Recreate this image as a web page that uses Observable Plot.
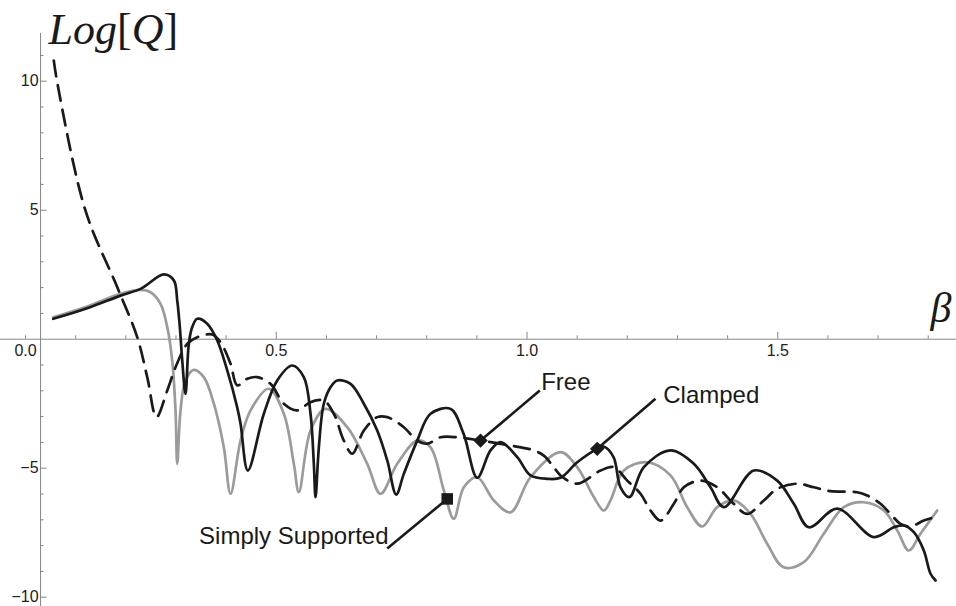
<!DOCTYPE html>
<html>
<head>
<meta charset="utf-8">
<script src="https://cdn.jsdelivr.net/npm/d3@7"></script>
<script src="https://cdn.jsdelivr.net/npm/@observablehq/plot@0.6"></script>
<style>
  html, body { margin: 0; padding: 0; background: #ffffff; }
  #chart svg { display: block; }
</style>
</head>
<body>
<div id="chart"></div>
<script>
// ---- Series: Clamped (solid black) ----
const clampedBeta = [0.0552,0.1230,0.1894,0.2293,0.2758,0.2957,0.3025,0.3077,0.3125,0.3190,0.3256,0.3324,0.3424,0.3623,0.3823,0.4022,0.4221,0.4287,0.4433,0.4752,0.5019,0.5318,0.5549,0.5683,0.5749,0.5783,0.5849,0.5948,0.6082,0.6215,0.6481,0.6746,0.7013,0.7213,0.7392,0.7543,0.7811,0.8076,0.8475,0.8734,0.9007,0.9272,0.9472,0.9805,1.0070,1.0403,1.0668,1.1001,1.1400,1.1525,1.1725,1.1864,1.2042,1.2329,1.2861,1.3326,1.3659,1.3924,1.4522,1.4989,1.5320,1.5619,1.6186,1.6915,1.7314,1.7514,1.7713,1.7912,1.8046,1.8146];
const clampedLogQ = [0.79,1.20,1.69,1.95,2.51,2.28,1.50,0.47,-0.83,-2.12,-0.18,0.47,0.79,0.60,-0.05,-1.21,-2.64,-3.27,-5.09,-2.89,-1.60,-1.02,-1.47,-2.89,-4.83,-6.12,-4.19,-2.50,-1.86,-1.60,-1.73,-2.50,-3.54,-4.70,-6.02,-5.22,-3.93,-2.89,-2.70,-3.66,-5.37,-4.31,-3.99,-4.57,-5.28,-5.41,-5.37,-4.77,-4.25,-4.16,-4.57,-5.74,-6.12,-4.96,-4.31,-4.83,-5.74,-6.51,-5.09,-5.48,-6.38,-7.29,-6.57,-7.67,-7.29,-7.22,-7.48,-8.19,-9.09,-9.35];

// ---- Series: Simply Supported (gray) ----
const simplyBeta = [0.0552,0.1230,0.1894,0.2293,0.2493,0.2692,0.2826,0.2925,0.2991,0.3025,0.3091,0.3190,0.3356,0.3555,0.3755,0.3954,0.4088,0.4287,0.4487,0.4851,0.5151,0.5350,0.5450,0.5683,0.5982,0.6415,0.6814,0.7079,0.7412,0.7811,0.8076,0.8341,0.8540,0.8740,0.9007,0.9338,0.9671,1.0070,1.0668,1.1001,1.1332,1.1531,1.1665,1.1930,1.2397,1.2861,1.3194,1.3493,1.3792,1.4123,1.4457,1.4789,1.5115,1.5519,1.5918,1.6317,1.6716,1.7115,1.7382,1.7613,1.7846,1.8179];
const simplyLogQ = [0.85,1.27,1.76,1.91,1.82,1.37,0.47,-0.83,-2.76,-4.83,-2.76,-1.60,-1.19,-1.47,-2.50,-4.19,-5.99,-3.93,-2.76,-1.92,-2.89,-4.83,-5.93,-3.54,-2.70,-3.41,-4.83,-5.99,-4.83,-3.93,-4.19,-5.86,-6.96,-5.74,-5.35,-6.25,-6.71,-5.35,-4.38,-4.96,-6.12,-6.64,-6.25,-5.09,-4.77,-5.28,-6.51,-7.26,-6.51,-6.25,-6.77,-7.93,-8.84,-8.64,-7.54,-6.51,-6.32,-6.64,-7.41,-8.19,-7.54,-6.64];

// ---- Series: Free (dashed black) ----
const freeBeta = [0.0564,0.0632,0.1196,0.1828,0.2227,0.2427,0.2612,0.2826,0.2991,0.3224,0.3424,0.3723,0.3888,0.4088,0.4221,0.4421,0.4620,0.4885,0.5151,0.5418,0.5683,0.5948,0.6148,0.6347,0.6515,0.6746,0.7013,0.7213,0.7543,0.7811,0.8010,0.8275,0.8608,0.9073,0.9671,1.0136,1.0335,1.0534,1.0668,1.1001,1.1466,1.1731,1.1998,1.2263,1.2463,1.2662,1.2927,1.3127,1.3460,1.3793,1.4123,1.4391,1.4722,1.4989,1.5388,1.5719,1.6052,1.6584,1.6784,1.7049,1.7248,1.7448,1.7647,1.7912,1.8179];
const freeLogQ = [10.80,9.96,4.98,2.02,0.08,-1.47,-3.02,-1.99,-1.09,-0.18,0.08,0.18,-0.12,-0.95,-1.79,-1.53,-1.47,-1.73,-2.50,-2.76,-2.44,-2.38,-2.89,-3.93,-4.44,-3.54,-3.02,-3.02,-3.41,-3.93,-4.05,-3.80,-3.80,-3.93,-4.12,-4.31,-4.51,-4.96,-5.28,-5.60,-5.09,-4.96,-5.48,-5.99,-6.64,-7.03,-6.38,-5.74,-5.48,-5.74,-6.38,-6.77,-6.25,-5.80,-5.60,-5.74,-5.89,-5.93,-6.06,-6.38,-6.77,-7.16,-7.26,-7.03,-6.87];

// ---- Annotations ----
const annotationLabels = ["Free", "Clamped", "Simply Supported"];
const labelBeta = [1.0283, 1.2716, 0.7238];
const labelLogQ = [-1.95, -2.49, -7.92];
const labelAnchor = ["start", "start", "end"];
const leaderStartBeta = [1.0255, 1.2562, 0.7213];
const leaderStartLogQ = [-1.99, -2.31, -8.11];
const markerBeta = [0.9073, 1.1400, 0.8409];
const markerLogQ = [-3.93, -4.25, -6.19];
const markerSymbol = ["diamond2", "diamond2", "square"];

// ---- Axes / ticks ----
const xTickValues = [0.0, 0.5, 1.0, 1.5];
const xTickLabels = ["0.0", "0.5", "1.0", "1.5"];
const xMajorTicks = [0.5, 1.0, 1.5];
const xMinorTicks = [0.0, 0.1, 0.2, 0.3, 0.4, 0.6, 0.7, 0.8, 0.9, 1.1, 1.2, 1.3, 1.4, 1.6, 1.7, 1.8];
const yTickValues = [10, 5, -5, -10];
const yTickLabels = ["10", "5", "\u22125", "\u221210"];
const yMinorTicks = [11, 9, 8, 7, 6, 4, 3, 2, 1, -1, -2, -3, -4, -6, -7, -8, -9];
const xDomain = [-0.0499, 1.8564];
const yDomain = [-10.36, 13.128];
const yAxisBeta = 0.03;
const yAxisTop = 11.85;
const axisLabelY = "Log[Q]";
const axisLabelX = "\u03B2";

const rows = (bs, qs) => bs.map((b, i) => ({beta: b, logQ: qs[i]}));
const clamped = rows(clampedBeta, clampedLogQ);
const simply = rows(simplyBeta, simplyLogQ);
const free = rows(freeBeta, freeLogQ);
const annotations = annotationLabels.map((t, i) => ({
  text: t, lx: labelBeta[i], ly: labelLogQ[i], anchor: labelAnchor[i],
  sx: leaderStartBeta[i], sy: leaderStartLogQ[i],
  mx: markerBeta[i], my: markerLogQ[i], symbol: markerSymbol[i]
}));

const axisColor = "#858585";
const textColor = "#222222";
const sans = "'Liberation Sans', Arial, Helvetica, sans-serif";
const serif = "'Liberation Serif', 'Times New Roman', serif";

const labelMark = (anchor) => Plot.text(annotations, {
  filter: d => d.anchor === anchor,
  x: "lx", y: "ly", text: "text", textAnchor: anchor, lineAnchor: "bottom",
  fontSize: 24, fontFamily: sans, fill: "#1a1a1a"
});

const chart = Plot.plot({
  width: 956,
  height: 606,
  marginTop: 0, marginRight: 0, marginBottom: 0, marginLeft: 0,
  x: {domain: xDomain, axis: null},
  y: {domain: yDomain, axis: null},
  style: {background: "#ffffff"},
  marks: [
    // axes lines
    Plot.ruleY([0], {stroke: axisColor, strokeWidth: 1}),
    Plot.ruleX([yAxisBeta], {y1: yDomain[0], y2: yAxisTop, stroke: axisColor, strokeWidth: 1}),
    // x ticks (pointing up)
    Plot.ruleX(xMajorTicks, {y1: 0, y2: 0.27, stroke: axisColor, strokeWidth: 1}),
    Plot.ruleX(xMinorTicks, {y1: 0, y2: 0.13, stroke: axisColor, strokeWidth: 1}),
    // y ticks (pointing right)
    Plot.ruleY(yTickValues, {x1: yAxisBeta, x2: yAxisBeta + 0.013, stroke: axisColor, strokeWidth: 1}),
    Plot.ruleY(yMinorTicks, {x1: yAxisBeta, x2: yAxisBeta + 0.007, stroke: axisColor, strokeWidth: 1}),
    // tick labels
    Plot.text(xTickValues, {x: d => d, y: 0, text: (d, i) => xTickLabels[i], dy: 5, lineAnchor: "top",
      fontSize: 16, fontFamily: sans, fill: textColor}),
    Plot.text(yTickValues, {x: yAxisBeta, y: d => d, text: (d, i) => yTickLabels[i], dx: -2, textAnchor: "end",
      fontSize: 16, fontFamily: sans, fill: textColor}),
    // axis titles
    Plot.text([axisLabelY], {x: 0.0459, y: 11.46, text: d => d, textAnchor: "start", lineAnchor: "bottom",
      fontSize: 44, fontFamily: serif, fontStyle: "italic", fill: "#1a1a1a"}),
    Plot.text([axisLabelX], {x: 1.8046, y: 0.65, text: d => d, textAnchor: "start", lineAnchor: "bottom",
      fontSize: 42, fontFamily: serif, fontStyle: "italic", fill: "#1a1a1a"}),
    // curves
    Plot.line(simply, {x: "beta", y: "logQ", stroke: "#9b9b9b", strokeWidth: 2.7, curve: "catmull-rom", strokeLinejoin: "round"}),
    Plot.line(free, {x: "beta", y: "logQ", stroke: "#1a1a1a", strokeWidth: 2.7, curve: "catmull-rom", strokeDasharray: "16,9"}),
    Plot.line(clamped, {x: "beta", y: "logQ", stroke: "#1a1a1a", strokeWidth: 2.7, curve: "catmull-rom", strokeLinejoin: "round"}),
    // annotation leaders
    Plot.link(annotations, {x1: "sx", y1: "sy", x2: "mx", y2: "my", stroke: "#1a1a1a", strokeWidth: 2.6}),
    Plot.dot(annotations, {x: "mx", y: "my", symbol: "symbol", r: 6.5, fill: "#1a1a1a", stroke: "none"}),
    labelMark("start"),
    labelMark("end")
  ]
});

// upright brackets in the Log[Q] label (italic letters, roman brackets)
d3.select(chart).selectAll("text").filter(function() { return this.textContent === axisLabelY; })
  .each(function() {
    const t = d3.select(this);
    t.text(null);
    [["Log", "italic"], ["[", "normal"], ["Q", "italic"], ["]", "normal"]].forEach(([s, st]) => {
      t.append("tspan").attr("font-style", st).text(s);
    });
  });

document.getElementById("chart").appendChild(chart);
</script>
</body>
</html>
